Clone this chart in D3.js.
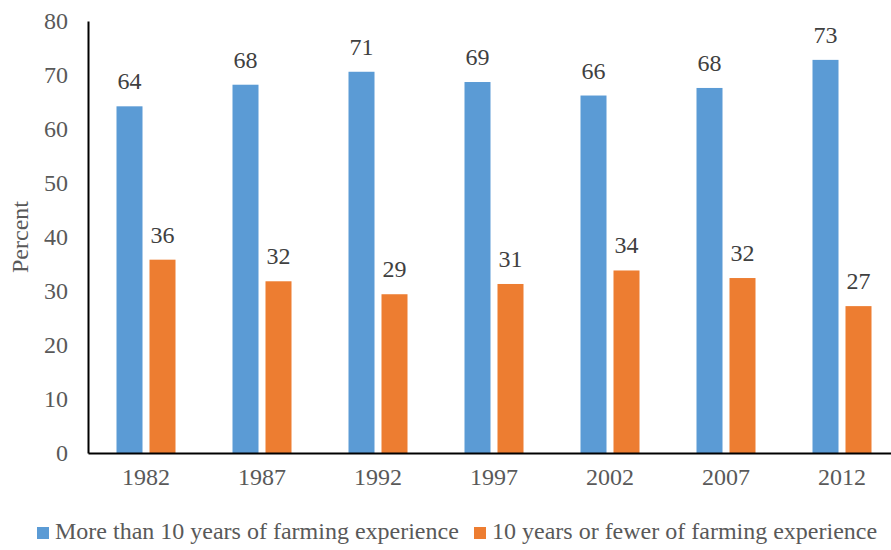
<!DOCTYPE html>
<meta charset="utf-8">
<script src="https://d3js.org/d3.v7.min.js"></script>
<style>
  body { margin: 0; background: #fff; }
  svg text { font-family: "Liberation Serif", "Times New Roman", serif !important; }
</style>
<div id="chart"></div>
<script>
    // data
    const years = ["1982", "1987", "1992", "1997", "2002", "2007", "2012"];
    const moreThan10 = [64.2, 68.2, 70.6, 68.7, 66.2, 67.6, 72.8];
    const tenOrFewer = [35.8, 31.8, 29.4, 31.3, 33.8, 32.4, 27.2];
    const seriesNames = ["More than 10 years of farming experience", "10 years or fewer of farming experience"];
    const colors = ["#5b9bd5", "#ed7d31"];

    const W = 891, H = 550;
    const margin = {top: 21, left: 88, bottom: 97};
    const fs = "24px";

    const svg = d3.select("#chart")
      .append("svg")
        .attr("width", W)
        .attr("height", H)
        .attr("font-family", "Liberation Serif, serif");

    const x = d3.scaleBand()
        .domain(years)
        .range([margin.left, 900]);

    const x1 = d3.scaleBand()
        .domain([0, 1])
        .range([x.bandwidth() / 2 - 29.5, x.bandwidth() / 2 + 29.5])
        .paddingInner(0.212);

    const y = d3.scaleLinear()
        .domain([0, 80])
        .range([H - margin.bottom, margin.top]);

    const rows = years.map((yr, i) => ({year: yr, vals: [moreThan10[i], tenOrFewer[i]]}));

    // bars
    const g = svg.append("g")
      .selectAll("g")
      .data(rows)
      .join("g")
        .attr("transform", d => `translate(${x(d.year)},0)`);

    g.selectAll("rect")
      .data(d => d.vals)
      .join("rect")
        .attr("x", (d, i) => x1(i))
        .attr("y", d => y(d))
        .attr("width", x1.bandwidth())
        .attr("height", d => y(0) - y(d))
        .attr("fill", (d, i) => colors[i]);

    // value labels
    g.selectAll("text")
      .data(d => d.vals)
      .join("text")
        .attr("x", (d, i) => x1(i) + x1.bandwidth() / 2)
        .attr("y", d => y(d) - 17)
        .attr("text-anchor", "middle")
        .attr("font-size", fs)
        .attr("fill", "#404040")
        .text(d => d3.format(".0f")(d));

    // y axis
    const yAxis = svg.append("g")
        .attr("transform", `translate(${margin.left},0)`)
        .call(d3.axisLeft(y).tickValues(d3.range(0, 81, 10)).tickSize(0).tickPadding(20));
    yAxis.select(".domain").attr("stroke", "#000").attr("stroke-width", 2);
    yAxis.attr("font-family", null);
    yAxis.selectAll("text")
        .attr("font-size", fs)
        .attr("fill", "#595959");

    // x axis
    const xAxis = svg.append("g")
        .attr("transform", `translate(0,${y(0)})`)
        .call(d3.axisBottom(x).tickSize(0).tickPadding(15));
    xAxis.select(".domain").attr("stroke", "#000").attr("stroke-width", 2);
    xAxis.attr("font-family", null);
    xAxis.selectAll("text")
        .attr("font-size", fs)
        .attr("fill", "#595959");

    // y label
    svg.append("text")
        .attr("transform", `translate(28,${(y(0) + y(80)) / 2}) rotate(-90)`)
        .attr("text-anchor", "middle")
        .attr("font-size", fs)
        .attr("fill", "#595959")
        .text("Percent");

    // legend
    const legendX = [37, 474];
    const legend = svg.append("g")
      .selectAll("g")
      .data(seriesNames)
      .join("g")
        .attr("transform", (d, i) => `translate(${legendX[i]},527)`);
    legend.append("rect")
        .attr("width", 12)
        .attr("height", 12)
        .attr("fill", (d, i) => colors[i]);
    legend.append("text")
        .attr("x", 18)
        .attr("y", 12)
        .attr("font-size", fs)
        .attr("fill", "#595959")
        .text(d => d);
</script>
